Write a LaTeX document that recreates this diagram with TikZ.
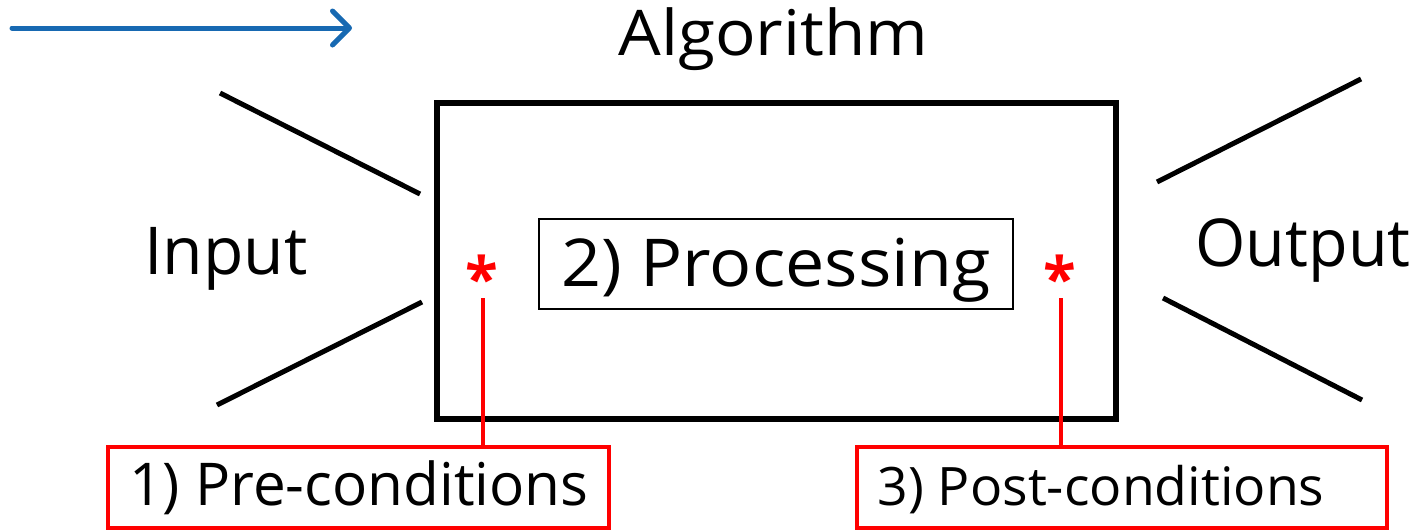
\documentclass[tikz,border=0pt]{standalone}
\usepackage{fontspec}
\setmainfont{Open Sans}
\usetikzlibrary{arrows.meta}
\definecolor{flowblue}{RGB}{23,105,178}
\definecolor{noteRed}{RGB}{255,0,0}
\tikzset{
  label text/.style={inner sep=0pt, font=\fontsize{#1}{#1}\selectfont},
  funnel/.style={line width=5pt},
  notebox/.style={draw=noteRed, line width=3.6pt, inner sep=0pt},
  noteline/.style={draw=noteRed, line width=3.6pt},
  mark star/.style={inner sep=0pt, text=noteRed, font=\fontsize{60}{60}\selectfont\bfseries},
}
\begin{document}
\begin{tikzpicture}[x=1pt,y=-1pt]
\useasboundingbox (0,0) rectangle (1418,531);

% direction arrow
\coordinate (arrS) at (12,28);
\coordinate (arrE) at (352,28);
\draw[flowblue, line width=5pt, line cap=round,
  -{Straight Barb[length=17pt,width=34pt,line cap=round,line join=round]}] (arrS) -- (arrE);

% algorithm frame and its title
\node[draw, line width=5.5pt, minimum width=679pt, minimum height=316pt, inner sep=0pt]
  (alg) at (776.5,261) {};
\node[label text=63, anchor=base] (algtitle) at (773.5,55) {\scalebox{1.07}[1]{Algorithm}};

% processing step
\node[draw, line width=2.6pt, minimum width=474pt, minimum height=90pt, inner sep=0pt]
  (proc) at (776,264) {};
\node[label text=66, anchor=base] (proctext) at (776,286) {\scalebox{1.06}[1]{2) Processing}};

% input funnel
\coordinate (inA1) at (220,93);  \coordinate (inA2) at (420,194);
\coordinate (inB1) at (217,405); \coordinate (inB2) at (422,302);
\draw[funnel] (inA1) -- (inA2);
\draw[funnel] (inB1) -- (inB2);
\node[label text=66, anchor=base] (input) at (226,274) {Input};

% output funnel
\coordinate (outA1) at (1157,182); \coordinate (outA2) at (1361,79);
\coordinate (outB1) at (1163,298); \coordinate (outB2) at (1362,400);
\draw[funnel] (outA1) -- (outA2);
\draw[funnel] (outB1) -- (outB2);
\node[label text=66, anchor=base] (output) at (1303,266) {\scalebox{0.98}[1]{Output}};

% condition markers
\node[mark star, anchor=north] (preStar) at (482,255) {*};
\node[mark star, anchor=north] (postStar) at (1060,255) {*};
\coordinate (preTop) at (483,298);
\coordinate (postTop) at (1061,298);

% condition boxes
\node[notebox, minimum width=501pt, minimum height=81pt] (pre) at (358.5,487.5) {};
\node[label text=59, anchor=base] (pretext) at (359,505) {\scalebox{0.99}[1]{1) Pre-conditions}};
\node[notebox, minimum width=530pt, minimum height=81pt] (post) at (1122,487.5) {};
\node[label text=53, anchor=base] (posttext) at (1101,505) {\scalebox{1.01}[1]{3) Post-conditions}};

\draw[noteline] (preTop) -- (preTop |- pre.north);
\draw[noteline] (postTop) -- (postTop |- post.north);
\end{tikzpicture}
\end{document}
